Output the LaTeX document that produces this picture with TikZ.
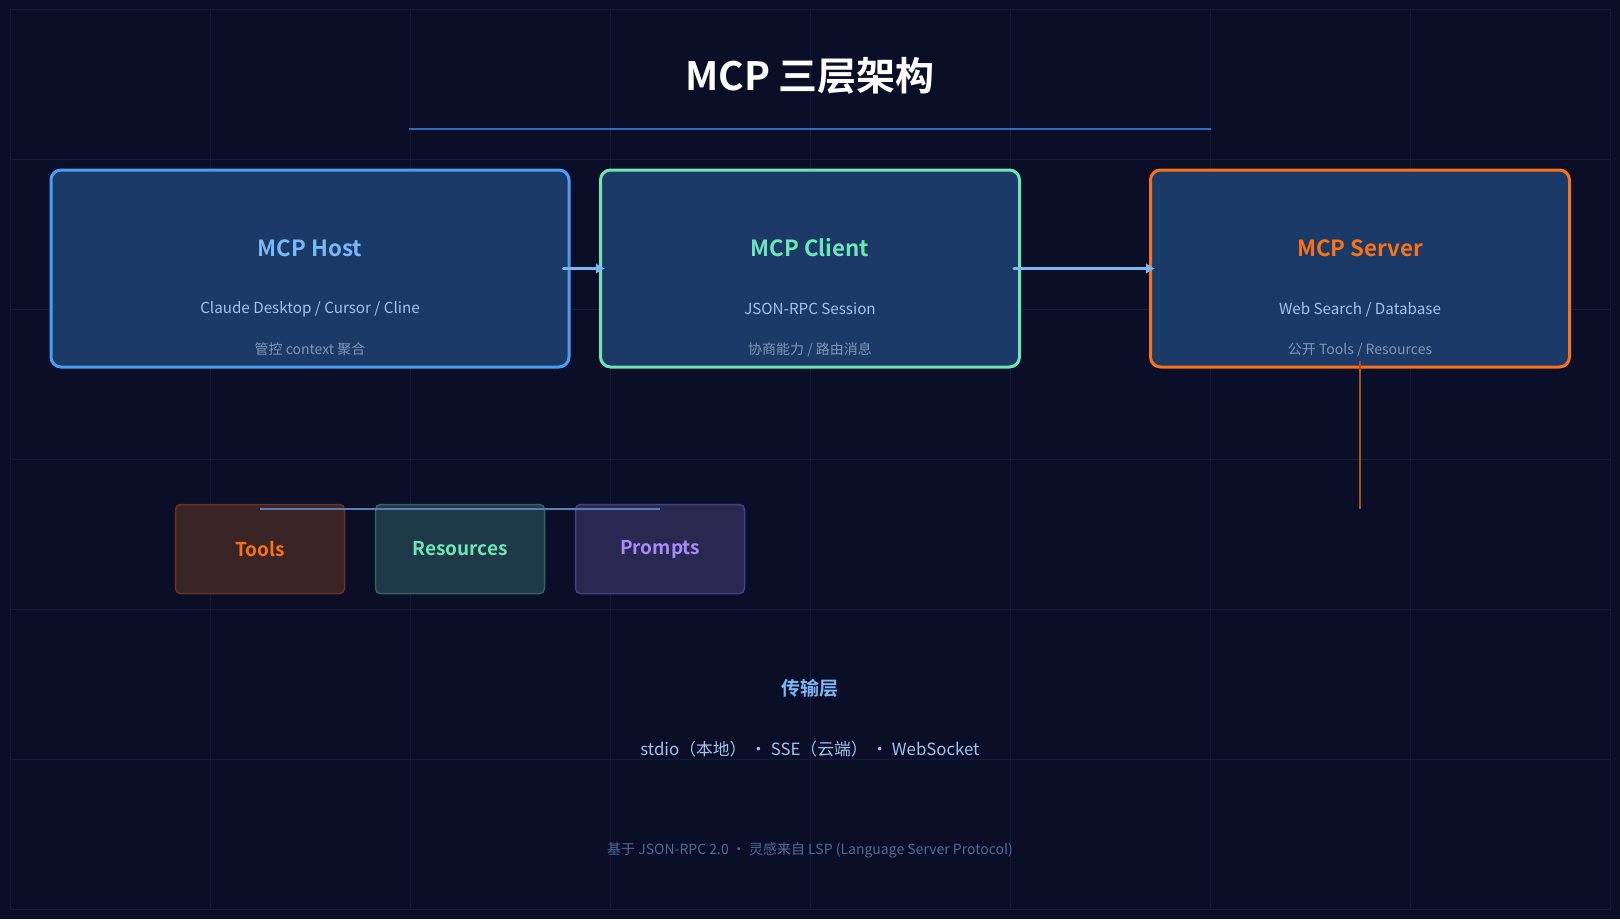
\documentclass[tikz,border=0pt]{standalone}
\usepackage{fontspec}
\setmainfont{Noto Sans CJK SC}[BoldFont={Noto Sans CJK SC Bold}]
\usetikzlibrary{arrows.meta, positioning}
\definecolor{mcpbg}{HTML}{0A0E27}
\definecolor{mcpgrid}{HTML}{131B3B}
\definecolor{mcpfill}{HTML}{1B3A68}
\definecolor{mcpblue}{HTML}{4A9EF7}
\definecolor{mcpbluetxt}{HTML}{7CB7F8}
\definecolor{mcpgreen}{HTML}{6EE7B7}
\definecolor{mcporange}{HTML}{F97316}
\definecolor{mcpsub}{HTML}{A3C2EE}
\definecolor{mcpnote}{HTML}{8196B8}
\definecolor{mcprule}{HTML}{2F6BC0}
\definecolor{mcparrow}{HTML}{7DB5F5}
\definecolor{mcpdrop}{HTML}{A4511D}
\definecolor{mcplink}{HTML}{5B7DB0}
\definecolor{mcpfoot}{HTML}{4F6A99}
\definecolor{toolsfill}{HTML}{3A2426}
\definecolor{toolsdraw}{HTML}{6A3420}
\definecolor{resfill}{HTML}{1E3A48}
\definecolor{resdraw}{HTML}{2E6660}
\definecolor{promptfill}{HTML}{2A2850}
\definecolor{promptdraw}{HTML}{463F8A}
\definecolor{prompttxt}{HTML}{A78BFA}

\begin{document}
\begin{tikzpicture}[
  x=1pt, y=-1pt,
  >=Latex,
  line cap=round, line join=round,
  gridln/.style={draw=mcpgrid, line width=1pt},
  layerbox/.style={rounded corners=10pt, line width=3pt, fill=mcpfill,
                   minimum width=518pt, minimum height=197pt, inner sep=0pt},
  layername/.style={font=\fontsize{22.3}{26}\selectfont\bfseries},
  layersub/.style={font=\fontsize{15.2}{18}\selectfont, text=mcpsub},
  layernote/.style={font=\fontsize{14}{17}\selectfont, text=mcpnote},
  primbox/.style={rounded corners=5pt, line width=1.5pt,
                  minimum width=169pt, minimum height=89pt, inner sep=0pt,
                  font=\fontsize{19}{23}\selectfont\bfseries},
  flow/.style={draw=mcparrow, fill=mcparrow, line width=3.3pt,
               -{Latex[length=9pt, width=11pt]}},
]
\fill[mcpbg] (0,0) rectangle (1620,919);
\useasboundingbox (0,0) rectangle (1620,919);

% ----- grid -----
\foreach \gx in {10,210,...,1610} \draw[gridln] (\gx,9) -- (\gx,909);
\foreach \gy in {9,159,...,909} \draw[gridln] (10,\gy) -- (1610,\gy);

% ----- title -----
\node[font=\fontsize{39}{45}\selectfont\bfseries, text=white] (title) at (810,76) {MCP 三层架构};
\coordinate (ruleL) at (409,129);
\coordinate (ruleR) at (1211,129);
\draw[draw=mcprule, line width=2pt, line cap=butt] (ruleL) -- (ruleR);

% ----- three layers -----
\node[layerbox, draw=mcpblue] (host) at (310,268.5) {};
\node[layerbox, draw=mcpgreen, minimum width=419pt] (client) at (810,268.5) {};
\node[layerbox, draw=mcporange, minimum width=419pt] (server) at (1360,268.5) {};

\node[layername, text=mcpbluetxt] (hostname) at (310,248) {MCP Host};
\node[layersub] (hostsub) at (310,309) {Claude Desktop / Cursor / Cline};
\node[layernote] (hostnote) at (310,349) {管控 context 聚合};

\node[layername, text=mcpgreen] (clientname) at (810,248) {MCP Client};
\node[layersub] (clientsub) at (810,309) {JSON-RPC Session};
\node[layernote] (clientnote) at (810,350) {协商能力 / 路由消息};

\node[layername, text=mcporange] (servername) at (1360,248) {MCP Server};
\node[layersub] (serversub) at (1360,310) {Web Search / Database};
\node[layernote] (servernote) at (1360,350) {公开 Tools / Resources};

\draw[flow] ([xshift=-7pt]host.east) -- ([xshift=6pt]client.west);
\draw[flow] ([xshift=-7pt]client.east) -- ([xshift=6pt]server.west);

% ----- primitives -----
\node[primbox, fill=toolsfill, draw=toolsdraw, text=mcporange] (tools) at (260,549) {Tools};
\node[primbox, fill=resfill, draw=resdraw, text=mcpgreen] (resources) at (460,549) {Resources};
\node[primbox, fill=promptfill, draw=promptdraw, text=prompttxt] (prompts) at (660,549) {Prompts};

\coordinate (drop) at (1360,509);
\draw[draw=mcpdrop, line width=2pt, line cap=butt] ([yshift=8pt]server.south) -- (drop);
\draw[draw=mcplink, line width=2pt, line cap=butt]
  ([yshift=40pt]tools.center) -- ([yshift=40pt]prompts.center);

% ----- transport -----
\node[font=\fontsize{19}{23}\selectfont\bfseries, text=mcpbluetxt] (transport) at (810,688) {传输层};
\node[font=\fontsize{16.8}{20}\selectfont, text=mcpsub] (transportsub) at (810,749)
  {stdio（本地） · SSE（云端） · WebSocket};

% ----- footer -----
\node[font=\fontsize{14}{17}\selectfont, text=mcpfoot] (footer) at (810,850)
  {基于 JSON-RPC 2.0 · 灵感来自 LSP (Language Server Protocol)};
\end{tikzpicture}
\end{document}
